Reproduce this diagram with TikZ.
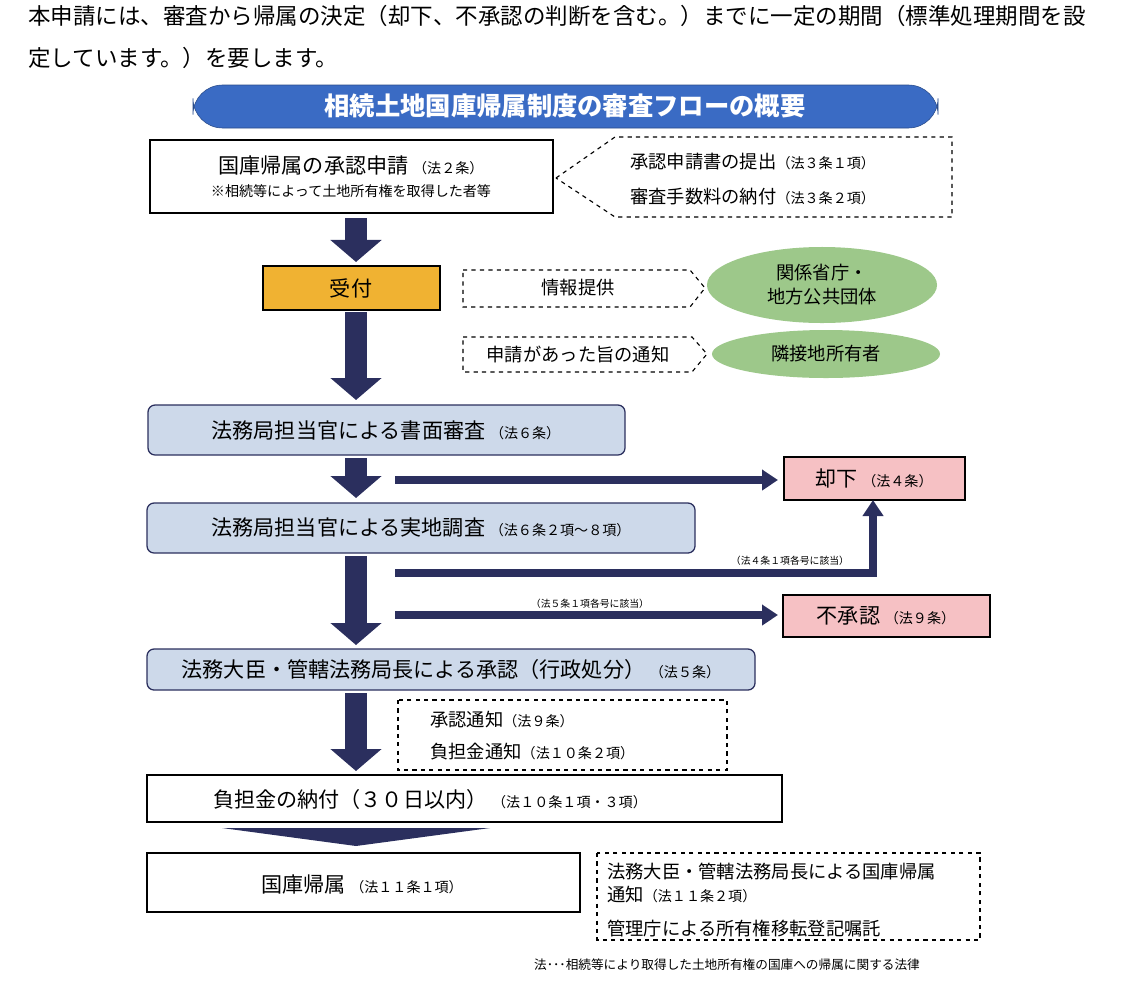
\documentclass[tikz,border=0pt]{standalone}
\usepackage{fontspec}
\setmainfont{Noto Sans CJK JP}
\usetikzlibrary{arrows.meta,positioning,shapes.geometric,calc}
\definecolor{navy}{HTML}{2B2F5E}
\definecolor{banner}{HTML}{3A6BC4}
\definecolor{pale}{HTML}{CDD9EA}
\definecolor{orng}{HTML}{F0B232}
\definecolor{pink}{HTML}{F6C1C4}
\definecolor{leaf}{HTML}{9DC88A}
\newcommand{\sm}[1]{{\fontsize{10pt}{12pt}\selectfont #1}}
\tikzset{every node/.style={font=\fontsize{15pt}{18pt}\selectfont, inner sep=0pt},
  panel/.style={draw=black, line width=0.9pt, fill=white},
  stage/.style={draw=navy, line width=0.9pt, fill=pale, rounded corners=5pt},
  note/.style={draw=black, dashed, line width=0.8pt},
  fat/.style={navy, line width=15.6pt, -{Triangle[width=1.25cm,length=0.55cm]}},
  thin/.style={navy, line width=5pt, -{Triangle[width=0.5cm,length=0.4cm]}},
  tiny/.style={font=\fontsize{7pt}{8pt}\selectfont}}
\begin{document}
\begin{tikzpicture}[x=0.025cm, y=-0.025cm]
  \useasboundingbox (0,0) rectangle (1129,1000);
  \node[anchor=west, align=left, font=\fontsize{16pt}{30pt}\selectfont] (intro) at (28,37)
    {本申請には、審査から帰属の決定（却下、不承認の判断を含む。）までに一定の期間（標準処理期間を設\\定しています。）を要します。};
  % banner
  \draw[fill=banner, draw=banner!70!black, rounded corners=21pt] (193,85) rectangle (938,128);
  \node[text=white, font=\fontsize{18pt}{20pt}\selectfont\bfseries] (title) at (565,106) {相続土地国庫帰属制度の審査フローの概要};
  % application
  \draw[panel] (150,140) rectangle (553,213);
  \node (l1) at (351,166) {国庫帰属の承認申請 \sm{（法２条）}};
  \node (l2) at (351,191) {\sm{※相続等によって土地所有権を取得した者等}};
  \draw[note] (556,178) -- (615,137) -- (952,137) -- (952,217) -- (615,217) -- cycle;
  \node[anchor=west] (d1) at (630,162) {\fontsize{13pt}{14pt}\selectfont 承認申請書の提出\sm{（法３条１項）}};
  \node[anchor=west] (d2) at (630,197) {\fontsize{13pt}{14pt}\selectfont 審査手数料の納付\sm{（法３条２項）}};
  % reception
  \draw[panel, fill=orng] (263,266) rectangle (440,310);
  \node (recv) at (351,288) {受付};
  \draw[note] (463,270) -- (690,270) -- (705,288) -- (690,307) -- (463,307) -- cycle;
  \node[font=\fontsize{13pt}{14pt}\selectfont] (info) at (578,288) {情報提供};
  \node[ellipse, fill=leaf, minimum width=5.75cm, minimum height=1.9cm, align=center,
    font=\fontsize{13pt}{17pt}\selectfont] (gov) at (822,285) {関係省庁・\\地方公共団体};
  \draw[note] (463,337) -- (692,337) -- (707,354) -- (692,372) -- (463,372) -- cycle;
  \node[font=\fontsize{13pt}{14pt}\selectfont] (notice) at (578,354) {申請があった旨の通知};
  \node[ellipse, fill=leaf, minimum width=5.7cm, minimum height=1.2cm,
    font=\fontsize{13pt}{14pt}\selectfont] (nbr) at (826,354) {隣接地所有者};
  % reviews
  \draw[stage] (148,405) rectangle (625,455);
  \node (paper) at (386,430) {法務局担当官による書面審査 \sm{（法６条）}};
  \draw[stage] (147,503) rectangle (695,553);
  \node (site) at (421,528) {法務局担当官による実地調査 \sm{（法６条２項～８項）}};
  \draw[panel, fill=pink] (784,457) rectangle (965,500);
  \node (reject) at (874,478) {却下 \sm{（法４条）}};
  \draw[panel, fill=pink] (783,595) rectangle (990,637);
  \node (deny) at (886,616) {不承認 \sm{（法９条）}};
  \draw[stage] (147,649) rectangle (755,690);
  \node (approve) at (451,669) {法務大臣・管轄法務局長による承認（行政処分） \sm{（法５条）}};
  \draw[note] (398,700) rectangle (727,770);
  \node[anchor=west] (n1) at (430,720) {\fontsize{13pt}{14pt}\selectfont 承認通知\sm{（法９条）}};
  \node[anchor=west] (n2) at (430,752) {\fontsize{13pt}{14pt}\selectfont 負担金通知\sm{（法１０条２項）}};
  \draw[panel] (147,775) rectangle (782,822);
  \node (pay) at (430,799) {負担金の納付（３０日以内） \sm{（法１０条１項・３項）}};
  \draw[panel] (147,853) rectangle (580,912);
  \node (vest) at (362,884) {国庫帰属 \sm{（法１１条１項）}};
  \draw[note] (597,853) rectangle (980,940);
  \node[anchor=west] (m1) at (607,872) {\fontsize{13pt}{14pt}\selectfont 法務大臣・管轄法務局長による国庫帰属};
  \node[anchor=west] (m2) at (607,895) {\fontsize{13pt}{14pt}\selectfont 通知\sm{（法１１条２項）}};
  \node[anchor=west] (m3) at (607,928) {\fontsize{13pt}{14pt}\selectfont 管理庁による所有権移転登記嘱託};
  \node[font=\fontsize{9pt}{10pt}\selectfont] (law) at (727,965) {法･･･相続等により取得した土地所有権の国庫への帰属に関する法律};
  % flow arrows
  \coordinate (a1) at (356,218); \coordinate (a1e) at (356,262);
  \coordinate (a2) at (356,312); \coordinate (a2e) at (356,400);
  \coordinate (a3) at (356,458); \coordinate (a3e) at (356,498);
  \coordinate (a4) at (356,556); \coordinate (a4e) at (356,645);
  \coordinate (a5) at (356,693); \coordinate (a5e) at (356,771);
  \foreach \s/\e in {a1/a1e,a2/a2e,a3/a3e,a4/a4e,a5/a5e}
    \draw[fat] (\s) -- (\e);
  \fill[navy] (222,828) -- (490,828) -- (356,846) -- cycle;
  \coordinate (r1) at (395,480);  \coordinate (r1e) at (778,480);
  \coordinate (r2) at (395,573);  \coordinate (r2e) at (873,500);
  \coordinate (r3) at (395,615);  \coordinate (r3e) at (778,615);
  \draw[thin] (r1) -- (r1e);
  \draw[thin] (r2) -| (r2e);
  \draw[thin] (r3) -- (r3e);
  \node[tiny] (why4) at (790,561) {（法４条１項各号に該当）};
  \node[tiny] (why5) at (590,604) {（法５条１項各号に該当）};
\end{tikzpicture}
\end{document}
